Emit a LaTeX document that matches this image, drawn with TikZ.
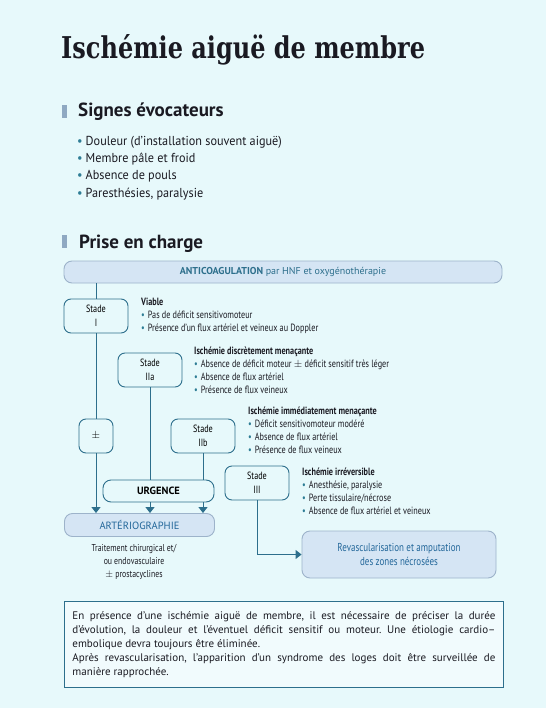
\documentclass[tikz,border=0pt]{standalone}
\usepackage{fontspec}
\setmainfont{PT Sans}
\newfontfamily\titlefont{DejaVu Serif}[FakeStretch=0.8]
\newfontfamily\condfont{PT Sans}[FakeStretch=0.78]
\newfontfamily\listfont{PT Sans}[FakeStretch=0.94]
\usetikzlibrary{arrows.meta}
\frenchspacing

\definecolor{pagebg}{HTML}{E7F9FB}
\definecolor{frame}{HTML}{2D6F8C}
\definecolor{headbar}{HTML}{8FA9C2}
\definecolor{dotc}{HTML}{2E7D95}
\definecolor{softfill}{HTML}{D5E5F4}
\definecolor{softedge}{HTML}{9DB3CA}
\definecolor{softtext}{HTML}{23679A}
\definecolor{inktext}{HTML}{1A1A22}

\newcommand{\dotitem}{\textcolor{dotc}{\textbullet}\hspace{3pt}}

\begin{document}
\begin{tikzpicture}[
  x=1pt, y=-1pt,
  stade/.style={draw=frame, line width=0.9pt, rounded corners=7pt, fill=pagebg, minimum width=64pt, minimum height=34pt, align=center, inner sep=1pt, font=\condfont\fontsize{10.5}{13.5}\selectfont},
  soft/.style={draw=softedge, line width=0.9pt, rounded corners=8pt, fill=softfill, text=softtext, align=center, inner sep=1pt, font=\condfont\fontsize{11.5}{14}\selectfont},
  info/.style={anchor=north west, align=left, inner sep=0pt, text=inktext, font=\condfont\fontsize{10.5}{13}\selectfont},
  heading/.style={anchor=base west, inner sep=0pt, text=inktext, font=\bfseries\fontsize{19}{22}\selectfont},
  link/.style={draw=frame, line width=0.9pt},
  tip/.style={-{Triangle[width=9pt, length=6pt]}}
]

% page
\fill[pagebg] (0,0) rectangle (546,708);

% Title
\node[anchor=base west, inner sep=0pt, text=inktext, font=\titlefont\bfseries\fontsize{30}{34}\selectfont] (title) at (61,59) {Ischémie aiguë de membre};

% --- Signes evocateurs ---
\fill[headbar] (62,105) rectangle (67,118);
\node[heading] (signes) at (78,117) {Signes évocateurs};
\node[info, font=\listfont\fontsize{13}{17.2}\selectfont] (signlist) at (77,136) {\dotitem Douleur (d’installation souvent aiguë)\\
\dotitem Membre pâle et froid\\
\dotitem Absence de pouls\\
\dotitem Paresthésies, paralysie};

% --- Prise en charge ---
\fill[headbar] (62,235) rectangle (67,248);
\node[heading] (prise) at (79,248) {Prise en charge};

% top box
\node[soft, minimum width=438pt, minimum height=22pt, text=frame, font=\fontsize{10}{12}\selectfont] (anticoag) at (283,272) {\textbf{ANTICOAGULATION} par HNF et oxygénothérapie};

% stades
\node[stade] (s1) at (96,316) {Stade\\I};
\node[stade] (s2a) at (150,370) {Stade\\IIa};
\node[stade, minimum width=34pt] (pm) at (96,436) {$\pm$};
\node[stade] (s2b) at (203,436) {Stade\\IIb};
\node[stade] (s3) at (257,483) {Stade\\III};

% descriptions
\node[info] (d1) at (141,298) {\textbf{Viable}\\
\dotitem Pas de déficit sensitivomoteur\\
\dotitem Présence d’un flux artériel et veineux au Doppler};
\node[info] (d2a) at (194,347) {\textbf{Ischémie discrètement menaçante}\\
\dotitem Absence de déficit moteur $\pm$ déficit sensitif très léger\\
\dotitem Absence de flux artériel\\
\dotitem Présence de flux veineux};
\node[info] (d2b) at (248,407) {\textbf{Ischémie immédiatement menaçante}\\
\dotitem Déficit sensitivomoteur modéré\\
\dotitem Absence de flux artériel\\
\dotitem Présence de flux veineux};
\node[info] (d3) at (302,468) {\textbf{Ischémie irréversible}\\
\dotitem Anesthésie, paralysie\\
\dotitem Perte tissulaire/nécrose\\
\dotitem Absence de flux artériel et veineux};

% urgence + arteriographie
\node[stade, minimum width=111pt, minimum height=22pt, rounded corners=8pt, font=\bfseries\fontsize{10.5}{12}\selectfont] (urgence) at (158.5,491) {URGENCE};
\node[soft, minimum width=150pt, minimum height=23pt, font=\fontsize{10.5}{12}\selectfont] (arterio) at (139.5,525) {ARTÉRIOGRAPHIE};
\node[align=center, inner sep=0pt, text=inktext, font=\condfont\fontsize{10}{13.2}\selectfont, anchor=north] (traitement) at (134,544) {Traitement chirurgical et/\\ou endovasculaire\\$\pm$ prostacyclines};

\node[soft, minimum width=194pt, minimum height=47pt] (revasc) at (399,554.5) {Revascularisation et amputation\\des zones nécrosées};

% connectors
\draw[link] (anticoag.south -| s1) -- (s1.north);
\draw[link] (s1.south) -- (pm.north);
\draw[link, tip] (pm.south) -- (arterio.north -| pm);
\draw[link] (s2a.south) -- (urgence.north -| s2a);
\draw[link] (s2b.south) -- (urgence.north -| s2b);
\draw[link, tip] (urgence.south -| s2a) -- (arterio.north -| s2a);
\draw[link, tip] (urgence.south -| s2b) -- (arterio.north -| s2b);
\draw[link, tip] (s3.south) |- (revasc.west);

% note
\node[draw=frame, line width=0.9pt, fill=pagebg!60!white, text width=423pt, inner xsep=8pt, inner ysep=10.5pt, align=justify, anchor=north west, text=inktext, font=\fontsize{11}{13.8}\selectfont] (note) at (64,601) {En présence d’une ischémie aiguë de membre, il est nécessaire de préciser la durée\linebreak d’évolution, la douleur et l’éventuel déficit sensitif ou moteur. Une étiologie cardio–\linebreak embolique devra toujours être éliminée.\\Après revascularisation, l’apparition d’un syndrome des loges doit être surveillée de\linebreak manière rapprochée.};

\end{tikzpicture}
\end{document}
